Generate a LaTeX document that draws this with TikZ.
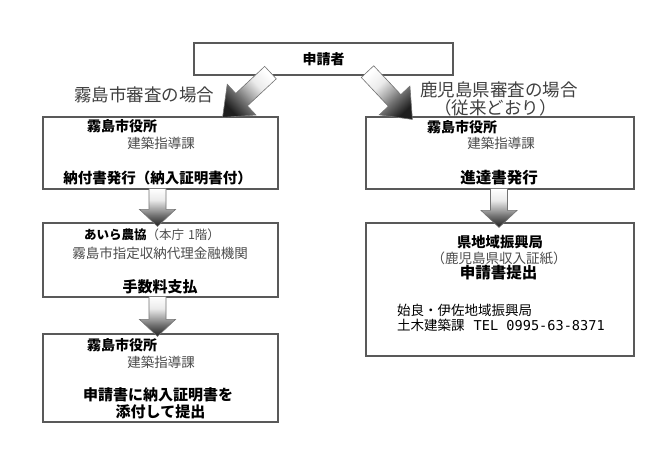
\documentclass[tikz,border=0pt]{standalone}
\usepackage{fontspec}
\setmainfont{Noto Sans CJK JP}
\newfontfamily\telfont{DejaVu Sans Mono}
\usetikzlibrary{calc}
\definecolor{txtgray}{gray}{0.25}
\definecolor{subgray}{gray}{0.3}
\definecolor{boxline}{gray}{0.35}
\pgfdeclarehorizontalshading{fatarr}{100bp}{color(0bp)=(white); color(25bp)=(white); color(40bp)=(black!8); color(52bp)=(black!35); color(60bp)=(black!55); color(75bp)=(black!88); color(100bp)=(black!88)}
\newcommand\fatarrow[6]{%
  \coordinate (fa-c) at ($(#2)!#5!(#1)$);
  \shadedraw[arrowbody, shading angle=#6]
    ($(#1)!#3!90:(#2)$) -- ($(fa-c)!#3!90:(#2)$) -- ($(fa-c)!#4!90:(#2)$) --
    (#2) -- ($(fa-c)!#4!-90:(#2)$) -- ($(fa-c)!#3!-90:(#2)$) --
    ($(#1)!#3!-90:(#2)$) -- cycle;
}
\tikzset{
  box/.style={draw=boxline, line width=1.2pt, fill=white, inner sep=0pt},
  arrowbody/.style={shading=fatarr, draw=black!55, line width=0.6pt, line join=miter},
  bt/.style={inner sep=0pt, text=black, font=\bfseries\fontsize{#1}{#1}\selectfont},
  gt/.style={inner sep=0pt, text=subgray, font=\fontsize{#1}{#1}\selectfont},
  ht/.style={inner sep=0pt, text=txtgray, font=\fontsize{#1}{#1}\selectfont},
  kt/.style={inner sep=0pt, text=black, font=\fontsize{#1}{#1}\selectfont},
}
\begin{document}
\begin{tikzpicture}[x=1pt,y=-1pt]
\useasboundingbox[fill=white] (0,0) rectangle (660,467);

% boxes
\node[box, minimum width=259, minimum height=32, bt=14] (app) at (323.5,59) {申請者};
\node[box, minimum width=235, minimum height=72] (b1) at (160.5,153) {};
\node[box, minimum width=235, minimum height=74] (b2) at (160.5,260) {};
\node[box, minimum width=235, minimum height=88] (b3) at (160.5,378) {};
\node[box, minimum width=268, minimum height=72] (b4) at (500,153) {};
\node[box, minimum width=268, minimum height=133] (b5) at (500,289.5) {};

% headings
\node[ht=17.5] (h1) at (144,95) {霧島市審査の場合};
\node[ht=17.5] (h2) at (499,90) {鹿児島県審査の場合};
\node[ht=17.5] (h3) at (495.5,108) {（従来どおり）};

% box 1
\node[bt=14, anchor=west] (b1a) at (87,126) {霧島市役所};
\node[gt=13.5] (b1b) at (161,143) {建築指導課};
\node[bt=14.5] (b1c) at (157.5,178) {納付書発行（納入証明書付）};

% box 2
\node[inner sep=0pt] (b2a) at (152,235) {\bfseries\fontsize{12.5}{12.5}\selectfont あいら農協\mdseries\color{subgray}（本庁\hspace{4pt}1階）};
\node[gt=13.5] (b2b) at (160,253) {霧島市指定収納代理金融機関};
\node[bt=15] (b2c) at (160,287) {手数料支払};

% box 3
\node[bt=14, anchor=west] (b3a) at (87,345) {霧島市役所};
\node[gt=13.5] (b3b) at (161,362) {建築指導課};
\node[bt=15] (b3c) at (158,395) {申請書に納入証明書を};
\node[bt=15] (b3d) at (160.5,412) {添付して提出};

% box 4
\node[bt=14, anchor=west] (b4a) at (427,127) {霧島市役所};
\node[gt=13.5] (b4b) at (501,143) {建築指導課};
\node[bt=15.5] (b4c) at (499,178) {進達書発行};

% box 5
\node[bt=14.3] (b5a) at (500,242) {県地域振興局};
\node[gt=13.5] (b5b) at (499,258) {（鹿児島県収入証紙）};
\node[bt=15.5] (b5c) at (498.5,273) {申請書提出};
\node[kt=13.5, anchor=west] (b5d) at (397,310) {始良・伊佐地域振興局};
\node[kt=13.5, anchor=west] (b5e) at (397,325) {土木建築課\hspace{9pt}{\telfont\fontsize{13.6}{13.6}\selectfont TEL 0995-63-8371}};

% arrow end points
\coordinate (d1s) at ($(app.south)+(-53,-3)$);
\coordinate (d1e) at ($(b1.north east)+(-56,1)$);
\coordinate (d2s) at ($(app.south)+(44,-4)$);
\coordinate (d2e) at ($(b4.north west)+(47,3)$);
\coordinate (v1s) at ($(b1.south)+(-3,-1)$);
\coordinate (v1e) at ($(b2.north)+(-3,4)$);
\coordinate (v2s) at ($(b2.south)+(-3,-1)$);
\coordinate (v2e) at ($(b3.north)+(-3,3)$);
\coordinate (v3s) at ($(b4.south)+(-1,-1)$);
\coordinate (v3e) at ($(b5.north)+(-1,5)$);

% arrows
\fatarrow{d1s}{d1e}{8.5pt}{21pt}{26pt}{223.5}
\fatarrow{d2s}{d2e}{8.5pt}{21pt}{26pt}{-47}
\fatarrow{v1s}{v1e}{8.5pt}{18pt}{17pt}{-90}
\fatarrow{v2s}{v2e}{8.5pt}{18pt}{17pt}{-90}
\fatarrow{v3s}{v3e}{8.5pt}{18pt}{17pt}{-90}
\end{tikzpicture}
\end{document}
